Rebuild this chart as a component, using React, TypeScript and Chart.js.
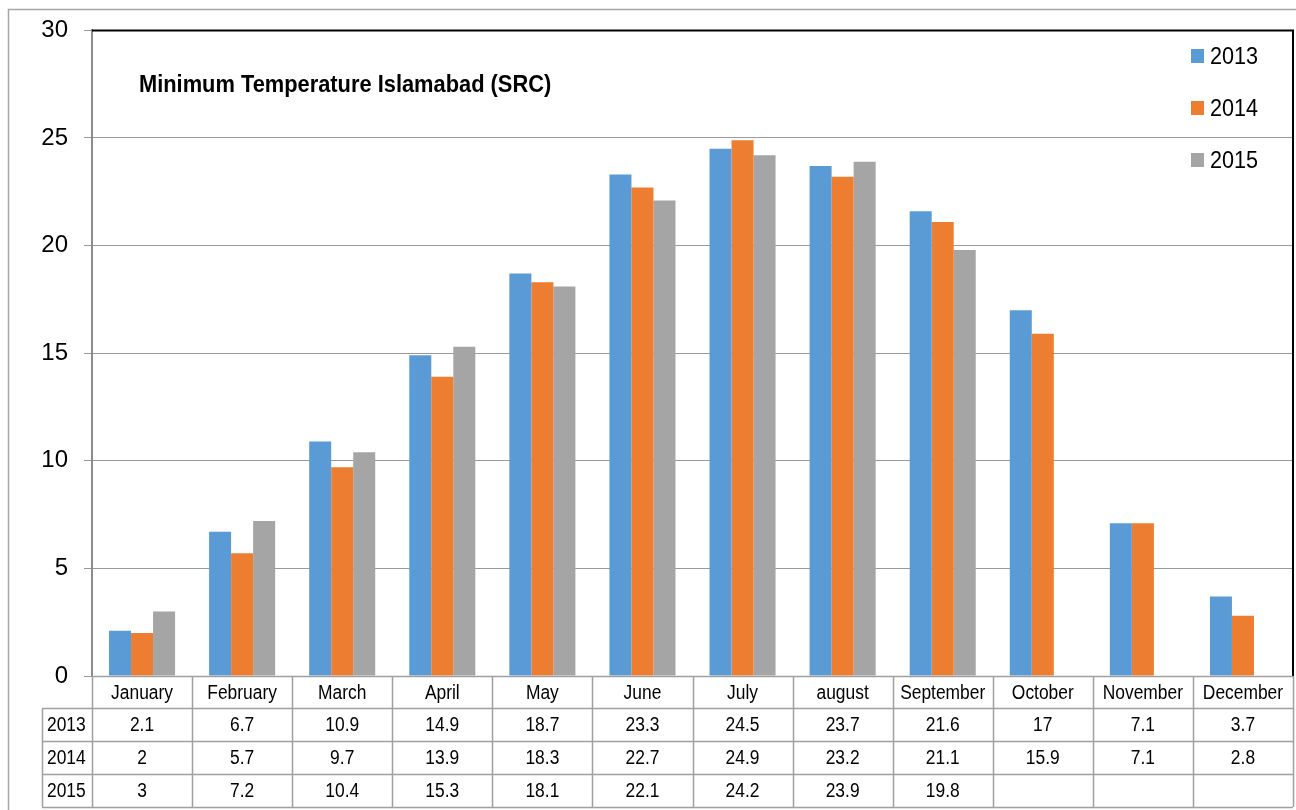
import { useEffect, useRef } from "react";
import { Chart, registerables } from "chart.js";

Chart.register(...registerables);

const months = [
  "January",
  "February",
  "March",
  "April",
  "May",
  "June",
  "July",
  "august",
  "September",
  "October",
  "November",
  "December",
];

const seriesNames = ["2013", "2014", "2015"];
const values2013: (number | null)[] = [2.1, 6.7, 10.9, 14.9, 18.7, 23.3, 24.5, 23.7, 21.6, 17, 7.1, 3.7];
const values2014: (number | null)[] = [2, 5.7, 9.7, 13.9, 18.3, 22.7, 24.9, 23.2, 21.1, 15.9, 7.1, 2.8];
const values2015: (number | null)[] = [3, 7.2, 10.4, 15.3, 18.1, 22.1, 24.2, 23.9, 19.8, null, null, null];
const seriesColors = ["#5B9BD5", "#ED7D31", "#A5A5A5"];

const yMin = 0;
const yMax = 30;
const yStep = 5;

const chartTitle = "Minimum Temperature Islamabad (SRC)";

const FONT = "'Liberation Sans', Arial, sans-serif";
const GRID = "#9a9a9a";

// Narrow-looking text: draw with a horizontal squeeze.
function narrowText(
  ctx: CanvasRenderingContext2D,
  text: string,
  x: number,
  y: number,
  squeeze: number,
  align: CanvasTextAlign
) {
  ctx.save();
  ctx.translate(x, y);
  ctx.scale(squeeze, 1);
  ctx.textAlign = align;
  ctx.fillText(text, 0, 0);
  ctx.restore();
}

// Draws the frame, the in-plot title and legend, and the data table under the bars.
const decorations = {
  id: "decorations",
  afterDraw(chart: any) {
    const ctx = chart.ctx as CanvasRenderingContext2D;
    const area = chart.chartArea;
    const xs = chart.scales.x;
    const datasets = chart.data.datasets;
    const labels = chart.data.labels as string[];

    ctx.save();

    // outer frame
    ctx.strokeStyle = "#a6a6a6";
    ctx.lineWidth = 1.5;
    ctx.beginPath();
    ctx.moveTo(8.5, 812);
    ctx.lineTo(8.5, 9.5);
    ctx.lineTo(1300, 9.5);
    ctx.stroke();

    // plot frame: top and right edges
    ctx.strokeStyle = "#000";
    ctx.lineWidth = 2;
    ctx.beginPath();
    ctx.moveTo(area.left, area.top);
    ctx.lineTo(area.right, area.top);
    ctx.lineTo(area.right, area.bottom);
    ctx.stroke();

    // title
    ctx.fillStyle = "#000";
    ctx.font = `bold 24px ${FONT}`;
    ctx.textBaseline = "alphabetic";
    narrowText(ctx, chartTitle, 139, 92, 0.91, "left");

    // legend
    ctx.font = `24px ${FONT}`;
    datasets.forEach((ds: any, i: number) => {
      const cy = 56 + i * 52;
      ctx.fillStyle = ds.backgroundColor;
      ctx.fillRect(1191, cy - 7, 13, 14);
      ctx.fillStyle = "#000";
      ctx.textBaseline = "middle";
      narrowText(ctx, ds.label, 1210, cy + 1, 0.9, "left");
    });

    // data table
    const n = labels.length;
    const colW = (xs.right - xs.left) / n;
    const headerTop = area.bottom;
    const headerH = 32;
    const rowH = 33;
    const tableBottom = headerTop + headerH + rowH * datasets.length;
    const labelLeft = 42;

    ctx.strokeStyle = "#a0a0a0";
    ctx.lineWidth = 1.5;
    ctx.beginPath();
    ctx.moveTo(xs.left, headerTop + 0.5);
    ctx.lineTo(xs.right, headerTop + 0.5);
    for (let r = 0; r <= datasets.length; r++) {
      const y = Math.round(headerTop + headerH + r * rowH) + 0.5;
      ctx.moveTo(labelLeft, y);
      ctx.lineTo(xs.right, y);
    }
    for (let c = 0; c <= n; c++) {
      const x = Math.round(xs.left + c * colW) + 0.5;
      ctx.moveTo(x, headerTop);
      ctx.lineTo(x, tableBottom);
    }
    ctx.moveTo(labelLeft + 0.5, headerTop + headerH);
    ctx.lineTo(labelLeft + 0.5, tableBottom);
    ctx.stroke();

    ctx.fillStyle = "#000";
    ctx.font = `20px ${FONT}`;
    ctx.textBaseline = "middle";
    labels.forEach((m, i) => {
      narrowText(ctx, m, xs.getPixelForValue(i), headerTop + headerH / 2 + 1, 0.87, "center");
    });
    datasets.forEach((ds: any, r: number) => {
      const cy = headerTop + headerH + r * rowH + rowH / 2 + 1;
      narrowText(ctx, ds.label, 47, cy, 0.87, "left");
      ds.data.forEach((v: number | null, i: number) => {
        if (v === null || v === undefined) return;
        narrowText(ctx, String(v), xs.getPixelForValue(i), cy, 0.87, "center");
      });
    });

    ctx.restore();
  },
};

export default function App() {
  const canvasRef = useRef<HTMLCanvasElement | null>(null);

  useEffect(() => {
    const canvas = canvasRef.current;
    if (!canvas) return;
    const seriesValues = [values2013, values2014, values2015];
    const chart = new Chart(canvas, {
      type: "bar",
      data: {
        labels: months,
        datasets: seriesNames.map((name, i) => ({
          label: name,
          data: seriesValues[i],
          backgroundColor: seriesColors[i],
          borderWidth: 0,
          barPercentage: 1,
          categoryPercentage: 0.66,
        })),
      },
      options: {
        responsive: false,
        animation: false,
        devicePixelRatio: 1,
        layout: { padding: { left: 0, top: 28, right: 3, bottom: 134 } },
        plugins: {
          legend: { display: false },
          title: { display: false },
          tooltip: { enabled: false },
        },
        scales: {
          x: { display: false },
          y: {
            min: yMin,
            max: yMax,
            ticks: {
              stepSize: yStep,
              color: "#000",
              padding: 16,
              font: { family: FONT, size: 24 },
            },
            grid: {
              color: (c: any) => (c.tick && c.tick.value === yMax ? "rgba(0,0,0,0)" : GRID),
              lineWidth: 1,
              tickColor: GRID,
              tickLength: 8,
            },
            border: { color: "#8c8c8c", width: 2 },
            afterFit: (scale: any) => {
              scale.width = 92;
            },
          },
        },
      },
      plugins: [decorations],
    });
    return () => chart.destroy();
  }, []);

  return (
    <div style={{ position: "absolute", left: 0, top: 0, width: 1296, height: 810, background: "#fff" }}>
      <canvas ref={canvasRef} width={1296} height={810} />
    </div>
  );
}
